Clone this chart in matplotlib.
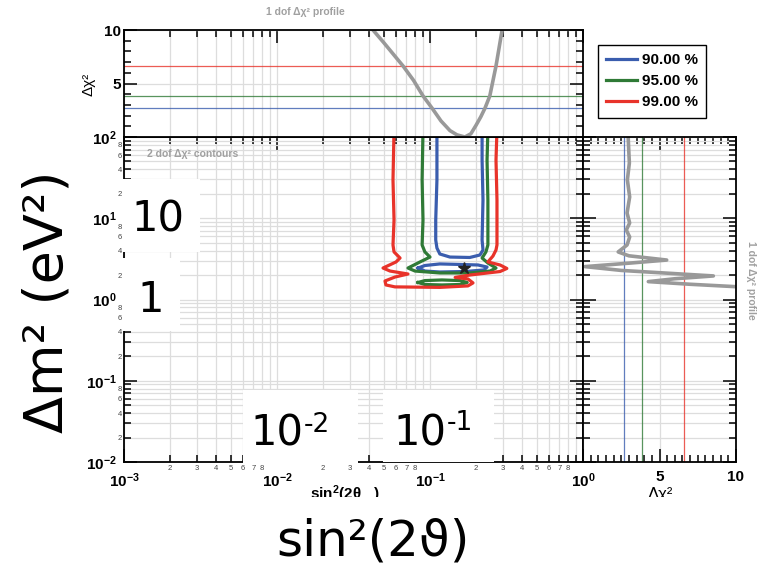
import numpy as np
import matplotlib.pyplot as plt
from matplotlib.patches import Rectangle
from matplotlib.ticker import LogLocator, MultipleLocator, FuncFormatter, NullFormatter

plt.rcParams['font.family'] = ['Liberation Sans', 'DejaVu Sans']
plt.rcParams['mathtext.fontset'] = 'custom'
plt.rcParams['mathtext.rm'] = 'Liberation Sans'
plt.rcParams['mathtext.bf'] = 'Liberation Sans:bold'
plt.rcParams['mathtext.it'] = 'Liberation Sans:italic'

# confidence levels and their 1 dof thresholds
cl_labels = ['90.00 %', '95.00 %', '99.00 %']
cl_dchi2 = [2.71, 3.84, 6.63]
cl_colors = ['#3a5dae', '#2f7a36', '#e8332a']

# 2 dof contours in (sin^2 2theta, dm^2)
blue_upper_s = [0.111, 0.111, 0.109, 0.109, 0.111, 0.116, 0.135, 0.182, 0.212, 0.222, 0.219, 0.222, 0.219, 0.219]
blue_upper_m = [122, 29.6, 9.5, 5.4, 4.3, 3.63, 3.33, 3.29, 3.53, 4.07, 5.4, 16.8, 52, 122]
blue_loop_s = [0.0836, 0.0926, 0.116, 0.157, 0.206, 0.236, 0.2255, 0.1695, 0.116, 0.0926, 0.0836]
blue_loop_m = [2.44, 2.62, 2.74, 2.70, 2.66, 2.51, 2.31, 2.21, 2.18, 2.24, 2.44]

green_s = [0.090, 0.0888, 0.090, 0.0888, 0.0926, 0.100, 0.0861, 0.0718, 0.0798, 0.116,
           0.182, 0.247, 0.270, 0.239, 0.219, 0.232, 0.239, 0.239, 0.236, 0.239]
green_m = [122, 29.6, 9.5, 4.69, 3.85, 3.33, 2.90, 2.44, 2.24, 2.12,
           2.12, 2.24, 2.44, 2.81, 3.24, 3.85, 4.69, 16.8, 52, 122]
green_loop_s = [0.0836, 0.0926, 0.1197, 0.157, 0.175, 0.157, 0.1197, 0.0926, 0.0836]
green_loop_m = [1.62, 1.71, 1.74, 1.71, 1.62, 1.53, 1.51, 1.53, 1.62]

red_s = [0.0582, 0.0573, 0.0582, 0.0573, 0.0582, 0.0637, 0.060, 0.0493, 0.0548, 0.0718,
         0.059, 0.0508, 0.0515, 0.059, 0.116, 0.177, 0.191, 0.177, 0.146, 0.182,
         0.287, 0.318, 0.287, 0.239, 0.258, 0.270, 0.274, 0.274, 0.270, 0.274]
red_m = [122, 29.6, 9.5, 4.69, 3.85, 3.24, 2.90, 2.44, 2.24, 2.06,
         1.89, 1.69, 1.51, 1.43, 1.41, 1.47, 1.60, 1.79, 1.87, 2.00,
         2.21, 2.41, 2.66, 2.90, 3.43, 4.07, 4.69, 16.8, 52, 122]

best_fit_s = 0.168
best_fit_m = 2.44

# 1 dof profile vs sin^2 2theta
prof_s = [0.036, 0.0424, 0.050, 0.0667, 0.078, 0.090, 0.103, 0.118, 0.135, 0.150,
          0.169, 0.185, 0.200, 0.215, 0.229, 0.246, 0.270, 0.296, 0.31]
prof_s_dchi2 = [12, 10, 8.8, 6.63, 5.3, 3.84, 2.71, 1.5, 0.6, 0.2,
                0.0, 0.3, 1.1, 1.9, 2.71, 3.84, 6.63, 10, 12]

# 1 dof profile vs dm^2
prof_m = [122, 91.8, 47.9, 29.6, 18.3, 11.6, 8.75, 7.17, 5.88, 4.69,
          3.85, 3.45, 3.06, 2.80, 2.54, 2.28, 1.95, 1.80, 1.66, 1.54, 1.44, 1.38]
prof_m_dchi2 = [2.95, 2.96, 3.03, 2.90, 3.05, 2.88, 3.05, 2.83, 3.05, 2.88,
                2.3, 3.0, 5.47, 3.0, 0.13, 2.5, 8.52, 6.0, 4.27, 7.0, 9.93, 12.0]

W, H = 763, 570
fig = plt.figure(figsize=(W / 100, H / 100), dpi=100)


def frame(x0, y0, x1, y1):
    return [x0 / W, 1 - y1 / H, (x1 - x0) / W, (y1 - y0) / H]


def fx(x):
    return x / W


def fy(y):
    return 1 - y / H


ax = fig.add_axes(frame(124, 137, 583, 462))
ax_top = fig.add_axes(frame(124, 30, 583, 137))
ax_right = fig.add_axes(frame(583, 137, 736, 462))

grid_kw = dict(color='#dddddd', lw=0.9)


def style(a):
    for sp in a.spines.values():
        sp.set_linewidth(1.3)
    a.tick_params(which='both', direction='in', top=True, right=True, width=1.1)
    a.tick_params(which='major', length=9.5)
    a.tick_params(which='minor', length=5)
    a.set_axisbelow(True)


def major_fmt(v, pos):
    return r'$\mathbf{10^{%d}}$' % round(np.log10(v))


def minor_x_fmt(v, pos):
    d = int(round(v / 10 ** np.floor(np.log10(v) + 1e-9)))
    return str(d) if 2 <= d <= 8 else ''


def minor_y_fmt(v, pos):
    d = int(round(v / 10 ** np.floor(np.log10(v) + 1e-9)))
    return str(d) if d in (2, 4, 6, 8) else ''


# main contour panel
style(ax)
ax.set_xscale('log')
ax.set_yscale('log')
ax.set_xlim(1e-3, 1)
ax.set_ylim(1e-2, 1e2)
for a in (ax.xaxis, ax.yaxis):
    a.set_major_locator(LogLocator(base=10, numticks=10))
    a.set_minor_locator(LogLocator(base=10, subs=np.arange(2, 10), numticks=20))
    a.set_major_formatter(FuncFormatter(major_fmt))
ax.xaxis.set_minor_formatter(FuncFormatter(minor_x_fmt))
ax.yaxis.set_minor_formatter(FuncFormatter(minor_y_fmt))
ax.tick_params(which='major', labelsize=11)
ax.tick_params(axis='x', which='major', pad=6.5)
ax.tick_params(axis='y', which='major', pad=5)
ax.tick_params(which='minor', labelsize=5.5, labelcolor='#444444', pad=2)
ax.tick_params(axis='y', which='minor', pad=1.5)
ax.grid(which='both', **grid_kw)

lw_c = 2.3
h_blue, = ax.plot(blue_upper_s, blue_upper_m, color=cl_colors[0], lw=lw_c, label=cl_labels[0])
ax.plot(blue_loop_s, blue_loop_m, color=cl_colors[0], lw=lw_c)
h_green, = ax.plot(green_s, green_m, color=cl_colors[1], lw=lw_c, label=cl_labels[1])
ax.plot(green_loop_s, green_loop_m, color=cl_colors[1], lw=lw_c)
h_red, = ax.plot(red_s, red_m, color=cl_colors[2], lw=lw_c, label=cl_labels[2])
ax.plot(best_fit_s, best_fit_m, marker='*', color='#222222', ms=9, zorder=5)

# top profile panel
style(ax_top)
ax_top.set_xscale('log')
ax_top.set_xlim(1e-3, 1)
ax_top.set_ylim(0, 10)
ax_top.xaxis.set_major_locator(LogLocator(base=10, numticks=10))
ax_top.xaxis.set_minor_locator(LogLocator(base=10, subs=np.arange(2, 10), numticks=20))
ax_top.xaxis.set_major_formatter(NullFormatter())
ax_top.xaxis.set_minor_formatter(NullFormatter())
ax_top.tick_params(axis='x', which='both', bottom=False)
ax_top.set_yticks([0, 5, 10])
ax_top.set_yticklabels(['', '5', '10'], fontweight='bold', fontsize=11)
ax_top.yaxis.set_minor_locator(MultipleLocator(1))
ax_top.tick_params(axis='y', which='major', pad=2)
ax_top.grid(axis='x', which='both', **grid_kw)
ax_top.grid(axis='y', which='major', **grid_kw)
for v, c in zip(cl_dchi2, cl_colors):
    ax_top.axhline(v, color=c, lw=0.9, alpha=0.8)
ax_top.plot(prof_s, prof_s_dchi2, color='#999999', lw=2.6)

# right profile panel
style(ax_right)
ax_right.set_yscale('log')
ax_right.set_ylim(1e-2, 1e2)
ax_right.set_xlim(0, 10)
ax_right.yaxis.set_major_locator(LogLocator(base=10, numticks=10))
ax_right.yaxis.set_minor_locator(LogLocator(base=10, subs=np.arange(2, 10), numticks=20))
ax_right.yaxis.set_major_formatter(NullFormatter())
ax_right.yaxis.set_minor_formatter(NullFormatter())
ax_right.set_xticks([0, 5, 10])
ax_right.set_xticklabels(['', '5', '10'], fontweight='bold', fontsize=11)
ax_right.xaxis.set_minor_locator(MultipleLocator(0.5))
ax_right.tick_params(axis='x', which='major', pad=6)
ax_right.grid(axis='y', which='both', **grid_kw)
ax_right.grid(axis='x', which='major', **grid_kw)
for v, c in zip(cl_dchi2, cl_colors):
    ax_right.axvline(v, color=c, lw=0.9, alpha=0.8)
ax_right.plot(prof_m_dchi2, prof_m, color='#999999', lw=2.6)

# legend
fig.legend([h_blue, h_green, h_red], cl_labels, loc='upper left',
           bbox_to_anchor=(fx(598), fy(45)), bbox_transform=fig.transFigure,
           frameon=True, fancybox=False, edgecolor='black', framealpha=1,
           borderaxespad=0, handlelength=2.0, handletextpad=0.3,
           labelspacing=0.45, borderpad=0.55, prop=dict(weight='bold', size=11))

# panel captions and axis titles (drawn under the white label boxes)
gray_kw = dict(color='#a0a0a0', weight='bold', fontsize=7.5, zorder=2)
fig.text(fx(305), fy(12), '1 dof Δχ² profile', ha='center', va='center', **gray_kw)
fig.text(fx(147), fy(154), '2 dof Δχ² contours', ha='left', va='center', **gray_kw)
fig.text(fx(751), fy(280), '1 dof Δχ² profile', ha='center', va='center', rotation=-90, **gray_kw)
fig.text(fx(88), fy(84), 'Δχ²', ha='center', va='center', rotation=90, fontsize=11, zorder=2)
fig.text(fx(660), fy(499), 'Δχ²', ha='center', va='baseline', fontsize=12, zorder=2)
fig.text(fx(310), fy(499), r'$\mathbf{sin^{2}(2\theta\quad)}$', ha='left', va='baseline',
         fontsize=11, zorder=2)

# white boxes with hand-written style labels
boxes = [(122, 179, 200, 252), (122, 258, 180, 331), (243, 390, 358, 463),
         (383, 390, 494, 462), (0, 497, 763, 570)]
for x0, y0, x1, y1 in boxes:
    fig.add_artist(Rectangle((fx(x0), fy(y1)), (x1 - x0) / W, (y1 - y0) / H,
                             transform=fig.transFigure, facecolor='white',
                             edgecolor='none', zorder=3))

big_kw = dict(family='DejaVu Sans', color='black', zorder=4)
fig.text(fx(158), fy(232), '10', ha='center', va='baseline', fontsize=30, **big_kw)
fig.text(fx(151), fy(312), '1', ha='center', va='baseline', fontsize=30, **big_kw)
fig.text(fx(303), fy(445), '10', ha='right', va='baseline', fontsize=30, **big_kw)
fig.text(fx(304), fy(432), '-2', ha='left', va='baseline', fontsize=19, **big_kw)
fig.text(fx(446), fy(445), '10', ha='right', va='baseline', fontsize=30, **big_kw)
fig.text(fx(447), fy(430), '-1', ha='left', va='baseline', fontsize=19, **big_kw)
fig.text(fx(48), fy(302), 'Δm² (eV²)', ha='center', va='center', rotation=90, fontsize=39, **big_kw)
fig.text(fx(373), fy(541), 'sin²(2ϑ)', ha='center', va='center', fontsize=36, **big_kw)

fig.savefig('out.png', dpi=100)
